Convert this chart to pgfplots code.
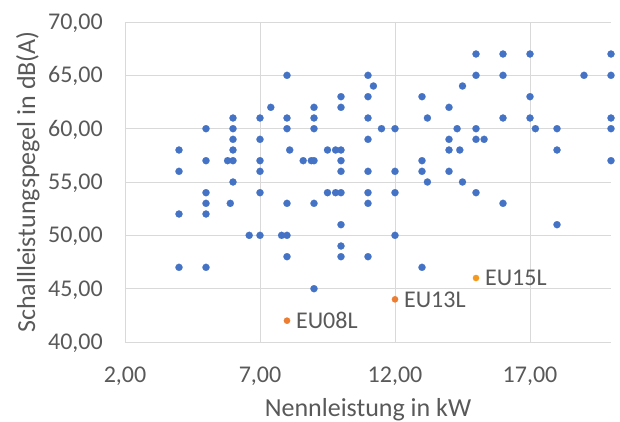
\documentclass[border=0pt]{standalone}
\usepackage{fontspec}
\setmainfont{Carlito}
\usepackage{pgfplots}
\pgfplotsset{compat=1.18}
\definecolor{xlblue}{HTML}{4472C4}
\definecolor{xlorange}{HTML}{ED7D31}
\definecolor{xlgold}{HTML}{F39A1E}
\definecolor{txt}{HTML}{595959}
\definecolor{grd}{HTML}{D9D9D9}
\newcommand\lbl{\fontsize{24}{28}\selectfont}
\newcommand\axlbl{\fontsize{26}{30}\selectfont}
\begin{document}
\begin{tikzpicture}
\begin{axis}[
  width=486pt, height=320pt, scale only axis,
  xmin=2, xmax=20, ymin=40, ymax=70,
  clip=false,
  xtick={2,7,12,17},
  xticklabels={{2,00},{7,00},{12,00},{17,00}},
  ytick={40,45,50,55,60,65,70},
  yticklabels={{40,00},{45,00},{50,00},{55,00},{60,00},{65,00},{70,00}},
  grid=major,
  major grid style={grd, line width=0.8pt},
  axis line style={draw=none},
  major tick length=0pt,
  tick label style={font=\lbl, text=txt, inner sep=0pt},
  xticklabel style={anchor=base, yshift=-40pt},
  yticklabel style={anchor=base east, xshift=-22pt, yshift=-7.6pt},
  xlabel={Nennleistung in kW},
  ylabel={Schallleistungspegel in dB(A)},
  label style={font=\axlbl, text=txt, inner sep=0pt},
  xlabel style={at={(axis description cs:0.5,0)}, anchor=base, yshift=-74pt},
  ylabel style={at={(axis description cs:0,0.5)}, anchor=north, yshift=109pt},
]
\coordinate (SW) at (rel axis cs:0,0);
\coordinate (NE) at (rel axis cs:1,1);
% Geraete
\addplot[xlblue, only marks, mark=*, mark size=3.6pt, mark options={draw=xlblue, fill=xlblue, line width=0.1pt}] table {
x y
4 58
4 56
4 52
4 47
5 60
5 57
5 54
5 53
5 52
5 47
5.8 57
5.9 53
6 61
6 60
6 59
6 58
6 57
6 55
6.6 50
7 61
7 59
7 57
7 56
7 54
7 50
7.4 62
7.8 50
8 65
8 61
8 60
8 53
8 50
8 48
8.1 58
8.6 57
8.9 57
9 62
9 61
9 60
9 57
9 53
9 45
9.5 58
9.5 54
9.8 58
9.8 54
10 63
10 62
10 58
10 57
10 56
10 54
10 51
10 49
10 48
11 65
11 63
11 61
11 59
11 56
11 54
11 53
11 48
11.2 64
11.5 60
12 60
12 56
12 54
12 50
13 63
13 57
13 56
13 47
13.2 61
13.2 55
14 62
14 59
14 58
14 56
14.3 60
14.4 58
14.5 64
14.5 55
15 67
15 65
15 60
15 59
15 54
15.3 59
16 67
16 65
16 61
16 53
17 67
17 63
17 61
17.2 60
18 60
18 58
18 51
19 65
20 67
20 65
20 61
20 60
20 57
};
% EU08L, EU13L
\addplot[xlorange, only marks, mark=*, mark size=3.2pt, mark options={draw=xlorange, fill=xlorange, line width=0.1pt},
  nodes near coords, point meta=explicit symbolic,
  nodes near coords style={anchor=west, font=\lbl, text=txt, inner sep=0pt, xshift=9pt}]
  table[meta=label] {
x y label
8 42 EU08L
12 44 EU13L
};
% EU15L
\addplot[xlgold, only marks, mark=*, mark size=3.2pt, mark options={draw=xlgold, fill=xlgold, line width=0.1pt},
  nodes near coords, point meta=explicit symbolic,
  nodes near coords style={anchor=west, font=\lbl, text=txt, inner sep=0pt, xshift=9pt}]
  table[meta=label] {
x y label
15 46 EU15L
};
\end{axis}
\pgfresetboundingbox
\useasboundingbox ([shift={(-125pt,-79pt)}]SW) rectangle ([shift={(9pt,22pt)}]NE);
\end{tikzpicture}
\end{document}
